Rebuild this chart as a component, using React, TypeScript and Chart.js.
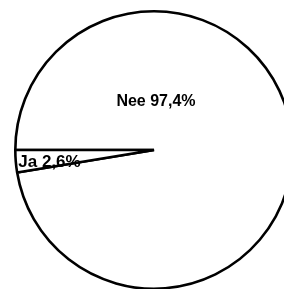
import React, { useEffect, useRef } from "react";
import { Chart, registerables } from "chart.js";

Chart.register(...registerables);

const categories = ["Nee", "Ja"];
const values = [97.4, 2.6];
const labelTexts = ["Nee 97,4%", "Ja 2,6%"];

const labelPlugin = {
  id: "sliceLabels",
  afterDraw(chart: any) {
    const meta = chart.getDatasetMeta(0);
    const arc0 = meta.data[0];
    if (!arc0) return;
    const { x: cx, y: cy, outerRadius: r } = arc0.getProps(["x", "y", "outerRadius"], true);
    const ctx = chart.ctx;
    ctx.save();
    ctx.fillStyle = "#000";
    ctx.textBaseline = "alphabetic";
    ctx.font = "bold 16px 'Liberation Sans', Arial, sans-serif";
    ctx.textAlign = "center";
    ctx.fillText(labelTexts[0], cx + 2, cy - r * 0.32);
    ctx.font = "bold 17px 'Liberation Sans', Arial, sans-serif";
    ctx.textAlign = "left";
    ctx.fillText(labelTexts[1], cx - r + 3, cy + 17);
    ctx.restore();
  },
};

export default function App() {
  const ref = useRef<HTMLCanvasElement>(null);
  useEffect(() => {
    if (!ref.current) return;
    const chart = new Chart(ref.current, {
      type: "pie",
      data: {
        labels: categories,
        datasets: [
          {
            data: values,
            backgroundColor: "#ffffff",
            borderColor: "#000000",
            borderWidth: 2.6,
          },
        ],
      },
      options: {
        responsive: false,
        animation: false,
        rotation: 270,
        layout: { padding: 0 },
        plugins: {
          legend: { display: false },
          tooltip: { enabled: false },
        },
      },
      plugins: [labelPlugin],
    });
    return () => chart.destroy();
  }, []);
  return (
    <div
      style={{
        position: "fixed",
        left: 0,
        top: 0,
        width: 284,
        height: 289,
        overflow: "hidden",
        background: "#fff",
      }}
    >
      <canvas
        ref={ref}
        width={280}
        height={280}
        style={{ position: "absolute", left: 14, top: 10, width: 280, height: 280 }}
      />
    </div>
  );
}
